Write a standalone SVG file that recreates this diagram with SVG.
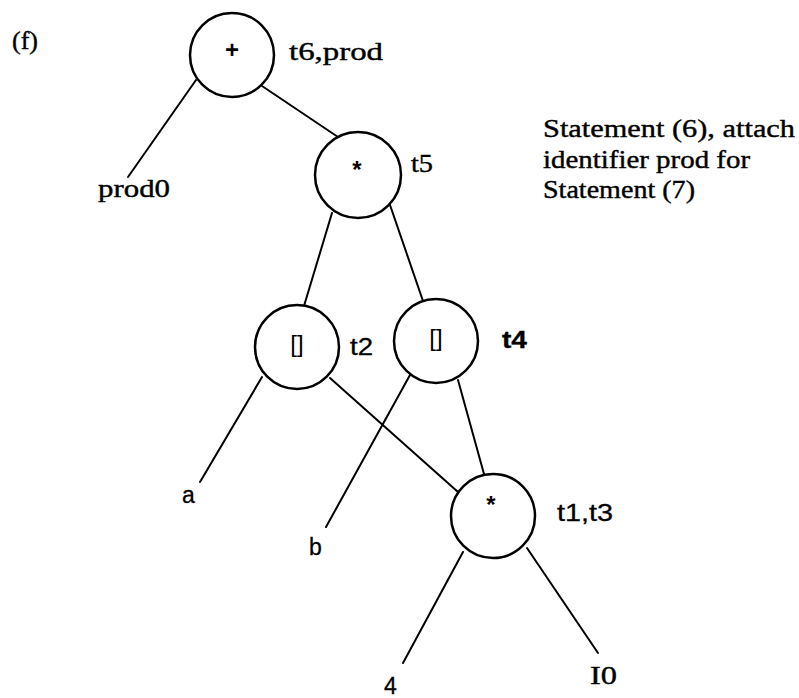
<svg xmlns="http://www.w3.org/2000/svg" width="799" height="698" viewBox="0 0 799 698">
<style>
.n{fill:#fff;stroke:#000;stroke-width:2.5}
.e{stroke:#000;stroke-width:2;fill:none;stroke-linecap:round}
.s{font-family:"Liberation Serif","Times New Roman",serif;font-size:26px;fill:#000;stroke:#000;stroke-width:0.4}
.a{font-family:"Liberation Sans",Arial,sans-serif;font-size:23px;fill:#000;stroke:#000;stroke-width:0.3}
.c{font-family:"Liberation Sans",Arial,sans-serif;font-size:24px;fill:#000;text-anchor:middle}
</style>
<rect width="799" height="698" fill="#fff"/>
<g id="connectors">
<line class="e" x1="196" y1="80" x2="128" y2="177"/>
<line class="e" x1="262" y1="86" x2="338" y2="137"/>
<line class="e" x1="332" y1="213" x2="304" y2="306"/>
<line class="e" x1="390" y1="205" x2="423" y2="301"/>
<line class="e" x1="262" y1="377" x2="200" y2="482"/>
<line class="e" x1="330" y1="378" x2="458" y2="492"/>
<line class="e" x1="410" y1="375" x2="326" y2="527"/>
<line class="e" x1="458" y1="380" x2="484" y2="474"/>
<line class="e" x1="463" y1="552" x2="403" y2="663"/>
<line class="e" x1="527" y1="548" x2="598" y2="653"/>
</g>
<text class="s" x="12" y="49" textLength="26" lengthAdjust="spacingAndGlyphs">(f)</text>
<g id="plus">
<circle class="n" cx="232" cy="55" r="42"/>
<text class="c" x="232" y="58" font-weight="bold">+</text>
<text class="s" x="289" y="60" textLength="94" lengthAdjust="spacingAndGlyphs">t6,prod</text>
</g>
<g id="prod0"><text class="s" x="98" y="197" textLength="72" lengthAdjust="spacingAndGlyphs">prod0</text></g>
<g id="mul1">
<circle class="n" cx="358" cy="175" r="43"/>
<text class="c" x="357" y="178" font-weight="bold">*</text>
<text class="s" x="411" y="172" textLength="22" lengthAdjust="spacingAndGlyphs">t5</text>
</g>
<g id="note">
<text class="s" x="543" y="137" textLength="252" lengthAdjust="spacingAndGlyphs">Statement (6), attach</text>
<text class="s" x="543" y="168" textLength="207" lengthAdjust="spacingAndGlyphs">identifier prod for</text>
<text class="s" x="543" y="198" textLength="152" lengthAdjust="spacingAndGlyphs">Statement (7)</text>
</g>
<g id="idx1">
<circle class="n" cx="297" cy="347" r="42"/>
<text class="c" x="297" y="352">[]</text>
<text class="a" x="350" y="355" textLength="23" lengthAdjust="spacingAndGlyphs">t2</text>
</g>
<g id="idx2">
<circle class="n" cx="436" cy="341" r="42"/>
<text class="c" x="436" y="346">[]</text>
<text class="a" x="502" y="348" font-weight="bold" textLength="25" lengthAdjust="spacingAndGlyphs">t4</text>
</g>
<g id="a"><text class="a" x="182" y="503" font-size="25">a</text></g>
<g id="b"><text class="a" x="309" y="555" font-size="25">b</text></g>
<g id="mul2">
<circle class="n" cx="493" cy="516" r="42"/>
<text class="c" x="491" y="513" font-weight="bold">*</text>
<text class="a" x="557" y="521" textLength="56" lengthAdjust="spacingAndGlyphs">t1,t3</text>
</g>
<g id="four"><text class="a" x="384" y="694" font-size="26">4</text></g>
<g id="i0"><text class="s" x="590" y="684" textLength="27" lengthAdjust="spacingAndGlyphs">I0</text></g>
</svg>
